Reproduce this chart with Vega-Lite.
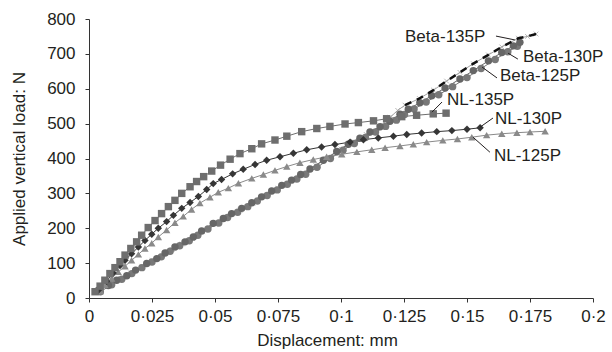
{
  "$schema": "https://vega.github.io/schema/vega-lite/v6.json",
  "width": 504,
  "height": 279,
  "autosize": {"type": "none"},
  "padding": {"left": 89, "top": 19, "right": 19, "bottom": 54},
  "background": "white",
  "config": {
    "view": {"stroke": null},
    "font": "Liberation Sans",
    "axis": {
      "grid": false,
      "domainColor": "#333333",
      "tickColor": "#333333",
      "tickSize": 4,
      "labelOverlap": false,
      "labelFont": "Liberation Sans",
      "labelFontSize": 17,
      "labelColor": "#231f20",
      "titleFont": "Liberation Sans",
      "titleFontSize": 17,
      "titleFontWeight": "normal",
      "titleColor": "#231f20"
    }
  },
  "datasets": {
    "series": [
      {"s": "Beta-135P", "x": 0.004, "y": 20}, {"s": "Beta-135P", "x": 0.0085, "y": 38}, {"s": "Beta-135P", "x": 0.0125, "y": 56}, {"s": "Beta-135P", "x": 0.0165, "y": 72}, {"s": "Beta-135P", "x": 0.021, "y": 91}, {"s": "Beta-135P", "x": 0.025, "y": 107}, {"s": "Beta-135P", "x": 0.029, "y": 122}, {"s": "Beta-135P", "x": 0.033, "y": 139}, {"s": "Beta-135P", "x": 0.037, "y": 155}, {"s": "Beta-135P", "x": 0.041, "y": 171}, {"s": "Beta-135P", "x": 0.045, "y": 190}, {"s": "Beta-135P", "x": 0.05, "y": 212}, {"s": "Beta-135P", "x": 0.055, "y": 232}, {"s": "Beta-135P", "x": 0.06, "y": 252}, {"s": "Beta-135P", "x": 0.065, "y": 272}, {"s": "Beta-135P", "x": 0.07, "y": 293}, {"s": "Beta-135P", "x": 0.075, "y": 314}, {"s": "Beta-135P", "x": 0.08, "y": 335}, {"s": "Beta-135P", "x": 0.085, "y": 357}, {"s": "Beta-135P", "x": 0.09, "y": 380}, {"s": "Beta-135P", "x": 0.095, "y": 403}, {"s": "Beta-135P", "x": 0.1, "y": 427}, {"s": "Beta-135P", "x": 0.105, "y": 449}, {"s": "Beta-135P", "x": 0.11, "y": 469}, {"s": "Beta-135P", "x": 0.115, "y": 490}, {"s": "Beta-135P", "x": 0.1195, "y": 518}, {"s": "Beta-135P", "x": 0.1225, "y": 538}, {"s": "Beta-135P", "x": 0.1254, "y": 553}, {"s": "Beta-135P", "x": 0.1311, "y": 572}, {"s": "Beta-135P", "x": 0.1367, "y": 596}, {"s": "Beta-135P", "x": 0.1419, "y": 622}, {"s": "Beta-135P", "x": 0.1472, "y": 647}, {"s": "Beta-135P", "x": 0.1525, "y": 672}, {"s": "Beta-135P", "x": 0.1585, "y": 697}, {"s": "Beta-135P", "x": 0.1638, "y": 720}, {"s": "Beta-135P", "x": 0.1704, "y": 745}, {"s": "Beta-135P", "x": 0.174, "y": 750}, {"s": "Beta-135P", "x": 0.1774, "y": 757},

      {"s": "Beta-125P", "x": 0.0045, "y": 18}, {"s": "Beta-125P", "x": 0.009, "y": 38}, {"s": "Beta-125P", "x": 0.013, "y": 54}, {"s": "Beta-125P", "x": 0.017, "y": 70}, {"s": "Beta-125P", "x": 0.021, "y": 87}, {"s": "Beta-125P", "x": 0.025, "y": 103}, {"s": "Beta-125P", "x": 0.0287, "y": 118}, {"s": "Beta-125P", "x": 0.0322, "y": 134}, {"s": "Beta-125P", "x": 0.036, "y": 150}, {"s": "Beta-125P", "x": 0.0398, "y": 164}, {"s": "Beta-125P", "x": 0.0432, "y": 180}, {"s": "Beta-125P", "x": 0.0472, "y": 198}, {"s": "Beta-125P", "x": 0.0515, "y": 215}, {"s": "Beta-125P", "x": 0.055, "y": 231}, {"s": "Beta-125P", "x": 0.059, "y": 246}, {"s": "Beta-125P", "x": 0.063, "y": 262}, {"s": "Beta-125P", "x": 0.0668, "y": 278}, {"s": "Beta-125P", "x": 0.0707, "y": 294}, {"s": "Beta-125P", "x": 0.0747, "y": 310}, {"s": "Beta-125P", "x": 0.0787, "y": 326}, {"s": "Beta-125P", "x": 0.0825, "y": 341}, {"s": "Beta-125P", "x": 0.086, "y": 355}, {"s": "Beta-125P", "x": 0.0905, "y": 375}, {"s": "Beta-125P", "x": 0.0958, "y": 400}, {"s": "Beta-125P", "x": 0.1008, "y": 424}, {"s": "Beta-125P", "x": 0.1053, "y": 443}, {"s": "Beta-125P", "x": 0.1097, "y": 460}, {"s": "Beta-125P", "x": 0.1137, "y": 476}, {"s": "Beta-125P", "x": 0.1177, "y": 492}, {"s": "Beta-125P", "x": 0.122, "y": 510}, {"s": "Beta-125P", "x": 0.1252, "y": 526}, {"s": "Beta-125P", "x": 0.129, "y": 542}, {"s": "Beta-125P", "x": 0.1338, "y": 562}, {"s": "Beta-125P", "x": 0.1388, "y": 583}, {"s": "Beta-125P", "x": 0.1443, "y": 606}, {"s": "Beta-125P", "x": 0.15, "y": 632}, {"s": "Beta-125P", "x": 0.1556, "y": 658}, {"s": "Beta-125P", "x": 0.1612, "y": 684}, {"s": "Beta-125P", "x": 0.1662, "y": 706}, {"s": "Beta-125P", "x": 0.17, "y": 722},

      {"s": "Beta-130P", "x": 0.0037, "y": 22}, {"s": "Beta-130P", "x": 0.0077, "y": 36}, {"s": "Beta-130P", "x": 0.011, "y": 51}, {"s": "Beta-130P", "x": 0.015, "y": 64}, {"s": "Beta-130P", "x": 0.0185, "y": 80}, {"s": "Beta-130P", "x": 0.0229, "y": 99}, {"s": "Beta-130P", "x": 0.0269, "y": 113}, {"s": "Beta-130P", "x": 0.0302, "y": 129}, {"s": "Beta-130P", "x": 0.0341, "y": 146}, {"s": "Beta-130P", "x": 0.0381, "y": 161}, {"s": "Beta-130P", "x": 0.0414, "y": 175}, {"s": "Beta-130P", "x": 0.0447, "y": 192}, {"s": "Beta-130P", "x": 0.0493, "y": 214}, {"s": "Beta-130P", "x": 0.0533, "y": 228}, {"s": "Beta-130P", "x": 0.0566, "y": 242}, {"s": "Beta-130P", "x": 0.0606, "y": 257}, {"s": "Beta-130P", "x": 0.0646, "y": 273}, {"s": "Beta-130P", "x": 0.0685, "y": 290}, {"s": "Beta-130P", "x": 0.0725, "y": 307}, {"s": "Beta-130P", "x": 0.0765, "y": 323}, {"s": "Beta-130P", "x": 0.0804, "y": 338}, {"s": "Beta-130P", "x": 0.084, "y": 354}, {"s": "Beta-130P", "x": 0.0877, "y": 370}, {"s": "Beta-130P", "x": 0.093, "y": 395}, {"s": "Beta-130P", "x": 0.0983, "y": 420}, {"s": "Beta-130P", "x": 0.1029, "y": 441}, {"s": "Beta-130P", "x": 0.1075, "y": 458}, {"s": "Beta-130P", "x": 0.1115, "y": 476}, {"s": "Beta-130P", "x": 0.1155, "y": 491}, {"s": "Beta-130P", "x": 0.1194, "y": 507}, {"s": "Beta-130P", "x": 0.1234, "y": 527}, {"s": "Beta-130P", "x": 0.1267, "y": 541}, {"s": "Beta-130P", "x": 0.1313, "y": 560}, {"s": "Beta-130P", "x": 0.136, "y": 580}, {"s": "Beta-130P", "x": 0.1413, "y": 602}, {"s": "Beta-130P", "x": 0.1472, "y": 628}, {"s": "Beta-130P", "x": 0.1525, "y": 652}, {"s": "Beta-130P", "x": 0.1585, "y": 680}, {"s": "Beta-130P", "x": 0.1638, "y": 704}, {"s": "Beta-130P", "x": 0.1684, "y": 723}, {"s": "Beta-130P", "x": 0.171, "y": 733},

      {"s": "NL-125P", "x": 0.0045, "y": 20}, {"s": "NL-125P", "x": 0.0063, "y": 38}, {"s": "NL-125P", "x": 0.009, "y": 56}, {"s": "NL-125P", "x": 0.0116, "y": 75}, {"s": "NL-125P", "x": 0.0143, "y": 91}, {"s": "NL-125P", "x": 0.0169, "y": 108}, {"s": "NL-125P", "x": 0.0196, "y": 125}, {"s": "NL-125P", "x": 0.0222, "y": 142}, {"s": "NL-125P", "x": 0.0249, "y": 157}, {"s": "NL-125P", "x": 0.0275, "y": 175}, {"s": "NL-125P", "x": 0.0308, "y": 195}, {"s": "NL-125P", "x": 0.0341, "y": 216}, {"s": "NL-125P", "x": 0.0374, "y": 234}, {"s": "NL-125P", "x": 0.0407, "y": 254}, {"s": "NL-125P", "x": 0.044, "y": 272}, {"s": "NL-125P", "x": 0.048, "y": 289}, {"s": "NL-125P", "x": 0.0513, "y": 303}, {"s": "NL-125P", "x": 0.0553, "y": 315}, {"s": "NL-125P", "x": 0.0593, "y": 329}, {"s": "NL-125P", "x": 0.0646, "y": 343}, {"s": "NL-125P", "x": 0.0692, "y": 354}, {"s": "NL-125P", "x": 0.0738, "y": 366}, {"s": "NL-125P", "x": 0.0785, "y": 377}, {"s": "NL-125P", "x": 0.0837, "y": 388}, {"s": "NL-125P", "x": 0.089, "y": 397}, {"s": "NL-125P", "x": 0.0943, "y": 405}, {"s": "NL-125P", "x": 0.1003, "y": 412}, {"s": "NL-125P", "x": 0.1063, "y": 419}, {"s": "NL-125P", "x": 0.1122, "y": 425}, {"s": "NL-125P", "x": 0.1175, "y": 431}, {"s": "NL-125P", "x": 0.1234, "y": 436}, {"s": "NL-125P", "x": 0.1287, "y": 441}, {"s": "NL-125P", "x": 0.134, "y": 447}, {"s": "NL-125P", "x": 0.1404, "y": 452}, {"s": "NL-125P", "x": 0.1462, "y": 456}, {"s": "NL-125P", "x": 0.1519, "y": 461}, {"s": "NL-125P", "x": 0.1578, "y": 467}, {"s": "NL-125P", "x": 0.1638, "y": 471}, {"s": "NL-125P", "x": 0.1698, "y": 474}, {"s": "NL-125P", "x": 0.175, "y": 476}, {"s": "NL-125P", "x": 0.181, "y": 478},

      {"s": "NL-130P", "x": 0.0037, "y": 22}, {"s": "NL-130P", "x": 0.007, "y": 48}, {"s": "NL-130P", "x": 0.0096, "y": 72}, {"s": "NL-130P", "x": 0.0123, "y": 93}, {"s": "NL-130P", "x": 0.0143, "y": 108}, {"s": "NL-130P", "x": 0.0169, "y": 127}, {"s": "NL-130P", "x": 0.0196, "y": 146}, {"s": "NL-130P", "x": 0.0222, "y": 165}, {"s": "NL-130P", "x": 0.0249, "y": 183}, {"s": "NL-130P", "x": 0.0275, "y": 200}, {"s": "NL-130P", "x": 0.0308, "y": 219}, {"s": "NL-130P", "x": 0.0335, "y": 237}, {"s": "NL-130P", "x": 0.0368, "y": 257}, {"s": "NL-130P", "x": 0.0401, "y": 274}, {"s": "NL-130P", "x": 0.0434, "y": 291}, {"s": "NL-130P", "x": 0.0467, "y": 311}, {"s": "NL-130P", "x": 0.0493, "y": 328}, {"s": "NL-130P", "x": 0.0526, "y": 340}, {"s": "NL-130P", "x": 0.057, "y": 356}, {"s": "NL-130P", "x": 0.0612, "y": 369}, {"s": "NL-130P", "x": 0.0659, "y": 383}, {"s": "NL-130P", "x": 0.0705, "y": 395}, {"s": "NL-130P", "x": 0.0758, "y": 405}, {"s": "NL-130P", "x": 0.0811, "y": 415}, {"s": "NL-130P", "x": 0.0864, "y": 425}, {"s": "NL-130P", "x": 0.0923, "y": 433}, {"s": "NL-130P", "x": 0.0976, "y": 440}, {"s": "NL-130P", "x": 0.1036, "y": 447}, {"s": "NL-130P", "x": 0.1089, "y": 454}, {"s": "NL-130P", "x": 0.1148, "y": 459}, {"s": "NL-130P", "x": 0.1208, "y": 464}, {"s": "NL-130P", "x": 0.1261, "y": 469}, {"s": "NL-130P", "x": 0.132, "y": 473}, {"s": "NL-130P", "x": 0.138, "y": 477}, {"s": "NL-130P", "x": 0.144, "y": 480}, {"s": "NL-130P", "x": 0.15, "y": 484}, {"s": "NL-130P", "x": 0.1552, "y": 488},

      {"s": "NL-135P", "x": 0.0024, "y": 18}, {"s": "NL-135P", "x": 0.0044, "y": 34}, {"s": "NL-135P", "x": 0.0063, "y": 51}, {"s": "NL-135P", "x": 0.0083, "y": 70}, {"s": "NL-135P", "x": 0.0103, "y": 87}, {"s": "NL-135P", "x": 0.0123, "y": 104}, {"s": "NL-135P", "x": 0.0143, "y": 123}, {"s": "NL-135P", "x": 0.0166, "y": 142}, {"s": "NL-135P", "x": 0.0189, "y": 161}, {"s": "NL-135P", "x": 0.0209, "y": 180}, {"s": "NL-135P", "x": 0.0235, "y": 202}, {"s": "NL-135P", "x": 0.0262, "y": 222}, {"s": "NL-135P", "x": 0.0288, "y": 242}, {"s": "NL-135P", "x": 0.0315, "y": 262}, {"s": "NL-135P", "x": 0.0341, "y": 280}, {"s": "NL-135P", "x": 0.0368, "y": 300}, {"s": "NL-135P", "x": 0.0401, "y": 319}, {"s": "NL-135P", "x": 0.0427, "y": 334}, {"s": "NL-135P", "x": 0.0455, "y": 348}, {"s": "NL-135P", "x": 0.0487, "y": 364}, {"s": "NL-135P", "x": 0.0522, "y": 381}, {"s": "NL-135P", "x": 0.056, "y": 398}, {"s": "NL-135P", "x": 0.0599, "y": 414}, {"s": "NL-135P", "x": 0.0646, "y": 428}, {"s": "NL-135P", "x": 0.0685, "y": 442}, {"s": "NL-135P", "x": 0.0738, "y": 453}, {"s": "NL-135P", "x": 0.0785, "y": 464}, {"s": "NL-135P", "x": 0.0844, "y": 477}, {"s": "NL-135P", "x": 0.0904, "y": 486}, {"s": "NL-135P", "x": 0.0956, "y": 492}, {"s": "NL-135P", "x": 0.1016, "y": 499}, {"s": "NL-135P", "x": 0.1069, "y": 503}, {"s": "NL-135P", "x": 0.1129, "y": 508}, {"s": "NL-135P", "x": 0.1181, "y": 514}, {"s": "NL-135P", "x": 0.1241, "y": 520}, {"s": "NL-135P", "x": 0.13, "y": 524}, {"s": "NL-135P", "x": 0.1366, "y": 528}, {"s": "NL-135P", "x": 0.1417, "y": 530}
    ],
    "labels": [
      {"label": "Beta-135P", "tx": 0.1254, "ty": 748, "x1": 0.1615, "y1": 751, "x2": 0.169, "y2": 740},
      {"label": "Beta-130P", "tx": 0.1722, "ty": 691, "x1": 0.1663, "y1": 702, "x2": 0.1702, "y2": 685},
      {"label": "Beta-125P", "tx": 0.1631, "ty": 636, "x1": 0.156, "y1": 662, "x2": 0.1619, "y2": 631},
      {"label": "NL-135P", "tx": 0.1421, "ty": 567, "x1": 0.1401, "y1": 562, "x2": 0.1361, "y2": 533},
      {"label": "NL-130P", "tx": 0.1611, "ty": 513, "x1": 0.1603, "y1": 516, "x2": 0.1552, "y2": 490},
      {"label": "NL-125P", "tx": 0.1607, "ty": 407, "x1": 0.1591, "y1": 418, "x2": 0.1524, "y2": 461}
    ]
  },
  "layer": [
    {
      "data": {"name": "series"},
      "mark": {"type": "line", "strokeWidth": 1},
      "encoding": {
        "x": {"field": "x", "type": "quantitative", "scale": {"domain": [0, 0.2], "nice": false},
          "axis": {"title": "Displacement: mm", "values": [0, 0.025, 0.05, 0.075, 0.1, 0.125, 0.15, 0.175, 0.2], "format": ".3~f", "labelExpr": "replace(datum.label, '.', '·')", "labelPadding": 6, "titlePadding": 8, "titleX": 238, "labelFlush": false, "labelOverlap": false}},
        "y": {"field": "y", "type": "quantitative", "scale": {"domain": [0, 800], "nice": false},
          "axis": {"title": "Applied vertical load: N", "values": [0, 100, 200, 300, 400, 500, 600, 700, 800], "tickCount": 9, "labelPadding": 10, "titlePadding": 18, "labelFlush": false, "labelOverlap": false, "labelBound": false}},
        "color": {"field": "s", "type": "nominal", "legend": null,
          "scale": {"domain": ["Beta-135P", "Beta-125P", "Beta-130P", "NL-125P", "NL-130P", "NL-135P"], "range": ["#a0a0a0", "#787878", "#666666", "#8a8a8a", "#363636", "#6e6e6e"]}},
        "detail": {"field": "s"}
      }
    },
    {
      "data": {"name": "series"},
      "transform": [{"filter": "datum.s === 'Beta-135P'"}],
      "mark": {"type": "point", "filled": false, "shape": "M-1,-1L1,1M1,-1L-1,1", "size": 22, "strokeWidth": 1, "color": "#9a9a9a"},
      "encoding": {
        "x": {"field": "x", "type": "quantitative"},
        "y": {"field": "y", "type": "quantitative"}
      }
    },
    {
      "data": {"name": "series"},
      "transform": [{"filter": "datum.s !== 'Beta-135P'"}],
      "mark": {"type": "point", "filled": true, "opacity": 1},
      "encoding": {
        "x": {"field": "x", "type": "quantitative"},
        "y": {"field": "y", "type": "quantitative"},
        "color": {"field": "s", "type": "nominal", "legend": null},
        "shape": {"field": "s", "type": "nominal", "legend": null,
          "scale": {"domain": ["Beta-125P", "Beta-130P", "NL-125P", "NL-130P", "NL-135P"], "range": ["circle", "circle", "triangle-up", "diamond", "square"]}},
        "size": {"field": "s", "type": "nominal", "legend": null,
          "scale": {"domain": ["Beta-125P", "Beta-130P", "NL-125P", "NL-130P", "NL-135P"], "range": [55, 55, 46, 32, 55]}}
      }
    },
    {
      "data": {"name": "series"},
      "transform": [{"filter": "datum.s === 'Beta-135P' && datum.x >= 0.124"}],
      "mark": {"type": "line", "color": "#111111", "strokeWidth": 2.5, "strokeDash": [7, 6]},
      "encoding": {
        "x": {"field": "x", "type": "quantitative"},
        "y": {"field": "y", "type": "quantitative"}
      }
    },
    {
      "data": {"name": "labels"},
      "mark": {"type": "rule", "color": "#231f20", "strokeWidth": 1},
      "encoding": {
        "x": {"field": "x1", "type": "quantitative"},
        "y": {"field": "y1", "type": "quantitative"},
        "x2": {"field": "x2"},
        "y2": {"field": "y2"}
      }
    },
    {
      "data": {"name": "labels"},
      "mark": {"type": "text", "align": "left", "baseline": "middle", "font": "Liberation Sans", "fontSize": 17, "color": "#231f20"},
      "encoding": {
        "x": {"field": "tx", "type": "quantitative"},
        "y": {"field": "ty", "type": "quantitative"},
        "text": {"field": "label"}
      }
    }
  ]
}
